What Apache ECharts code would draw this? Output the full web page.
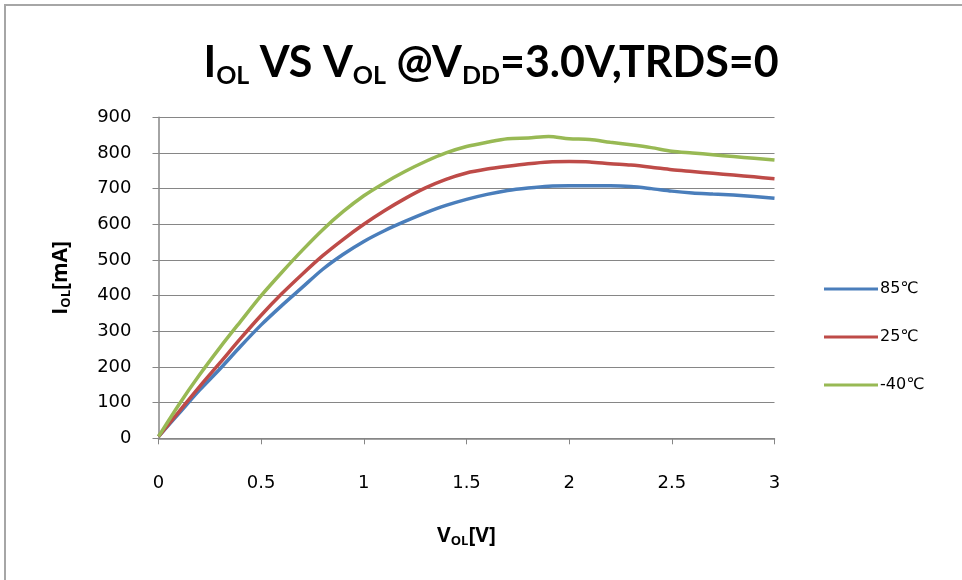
<!DOCTYPE html>
<html><head><meta charset="utf-8">
<script src="https://cdn.jsdelivr.net/npm/echarts@6/dist/echarts.min.js"></script>
<style>html,body{margin:0;padding:0;background:#fff}#c{width:962px;height:580px}</style>
</head><body><div id="c"></div>
<script>
const voltages = [0,0.1,0.2,0.3,0.4,0.5,0.6,0.7,0.8,0.9,1.0,1.1,1.2,1.3,1.4,1.5,1.6,1.7,1.8,1.9,2.0,2.1,2.2,2.3,2.4,2.5,2.6,2.7,2.8,2.9,3.0];
const i85 = [5,70,135,195,258,318,372,423,474,516,552,582,608,632,653,670,684,695,702,707,708,708,708,706,700,693,688,685,682,678,673];
const i25 = [5,75,145,212,280,345,405,460,512,558,600,638,672,702,726,744,755,763,770,775,776,775,770,766,760,753,748,743,738,733,728];
const im40 = [5,95,178,255,328,400,465,527,585,636,680,716,748,776,800,818,830,840,842,846,840,838,830,823,815,805,800,795,790,785,780];
const seriesNames = ['85℃','25℃','-40℃'];
const xTicks = [0,0.5,1,1.5,2,2.5,3];
const yTicks = [0,100,200,300,400,500,600,700,800,900];

const colors = ['#4A7EBB','#BE4B48','#98B954'];
const pair = (ys) => voltages.map((v,i)=>[v, ys[i]]);
const chart = echarts.init(document.getElementById('c'));
const mk = (name, ys, c) => ({
  name, type:'line', data: pair(ys), smooth: 0.3, showSymbol:false, symbol:'none',
  lineStyle:{color:c, width:3.5}, itemStyle:{color:c}
});
const nameRich = {
  b:{fontFamily:'Open Sans', fontWeight:'bold', fontSize:21, color:'#000'},
  s:{fontFamily:'Open Sans', fontWeight:'bold', fontSize:13, color:'#000', padding:[9,0,0,0]}
};
chart.setOption({
  animation:false,
  backgroundColor:'#fff',
  title:{
    text:'{b|I}{s|OL}{b| VS V}{s|OL}{b| @V}{s|DD}{b|=3.0V,TRDS=0}',
    left:486, top:33, textAlign:'center',
    textStyle:{rich:{
      b:{fontFamily:'Lato', fontWeight:'bold', fontSize:43, color:'#000'},
      s:{fontFamily:'Lato', fontWeight:'bold', fontSize:25, color:'#000', padding:[25,0,0,0]}
    }}
  },
  graphic:[{type:'rect', shape:{x:5,y:5,width:1000,height:700}, style:{fill:'none', stroke:'#a6a6a6', lineWidth:2}, silent:true}],
  grid:{left:158.5, top:117.3, width:616, height:321},
  legend:{
    orient:'vertical', left:819, top:274, itemGap:28, itemWidth:54, itemHeight:3,
    icon:'rect',
    data: seriesNames,
    textStyle:{fontFamily:'DejaVu Sans', fontSize:16, lineHeight:20, color:'#000', padding:[0,0,0,-3]}
  },
  xAxis:{
    type:'value', min:0, max:3, interval:0.5,
    name:'{b|V}{s|OL}{b|[V]}', nameLocation:'middle', nameGap:87,
    nameTextStyle:{rich:nameRich},
    axisLine:{show:true, lineStyle:{color:'#868686', width:1.5}},
    axisTick:{show:true, length:6, lineStyle:{color:'#868686'}},
    axisLabel:{margin:36, fontFamily:'DejaVu Sans', fontSize:18, color:'#000'},
    splitLine:{show:false}
  },
  yAxis:{
    type:'value', min:0, max:900, interval:100,
    name:'{b|I}{s|OL}{b|[mA]}', nameLocation:'middle', nameGap:86, nameRotate:90,
    nameTextStyle:{rich:nameRich},
    axisLine:{show:true, lineStyle:{color:'#868686', width:1.5}},
    axisTick:{show:true, length:6, lineStyle:{color:'#868686'}},
    axisLabel:{margin:27, fontFamily:'DejaVu Sans', fontSize:18, color:'#000'},
    splitLine:{show:true, lineStyle:{color:'#868686', width:1.2}}
  },
  series:[mk(seriesNames[0], i85, colors[0]), mk(seriesNames[1], i25, colors[1]), mk(seriesNames[2], im40, colors[2])]
});
</script></body></html>
